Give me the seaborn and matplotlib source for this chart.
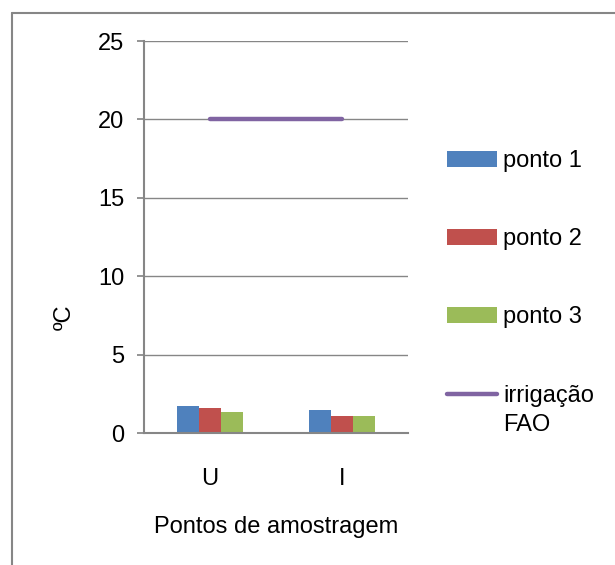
import matplotlib
matplotlib.use("Agg")
import matplotlib.pyplot as plt
import seaborn as sns
import pandas as pd
from matplotlib.lines import Line2D

categories = ["U", "I"]
ponto1 = [1.72, 1.45]
ponto2 = [1.57, 1.08]
ponto3 = [1.32, 1.07]
fao = [20, 20]
series_names = ["ponto 1", "ponto 2", "ponto 3"]
line_name_1 = "irrigação"
line_name_2 = "FAO"
colors = ["#4F81BD", "#C0504D", "#9BBB59"]
line_color = "#8064A2"

sns.set_theme(style="white")
plt.rcParams["font.family"] = ["Liberation Sans", "DejaVu Sans"]
plt.rcParams["text.color"] = "black"
plt.rcParams["axes.labelcolor"] = "black"
plt.rcParams["xtick.color"] = "black"
plt.rcParams["ytick.color"] = "black"

FS = 17

rows = []
for name, vals in zip(series_names, [ponto1, ponto2, ponto3]):
    for c, v in zip(categories, vals):
        rows.append({"cat": c, "serie": name, "val": v})
df = pd.DataFrame(rows)
dline = pd.DataFrame({"cat": categories, "val": fao})

fig = plt.figure(figsize=(6.15, 5.65), dpi=100)
ax = fig.add_axes([144/615, 1-433/565, 264/615, 392/565])

sns.barplot(data=df, x="cat", y="val", hue="serie", palette=colors,
            width=0.5, saturation=1, ax=ax, edgecolor="none")
sns.lineplot(data=dline, x="cat", y="val", color=line_color, linewidth=3.2,
             ax=ax, label=line_name_1)

ax.set_ylim(0, 25)
ax.set_xlim(-0.5, 1.5)
ax.set_yticks([0, 5, 10, 15, 20, 25])
ax.yaxis.grid(True, color="#868686", linewidth=1)
ax.set_axisbelow(True)
for s in ["top", "right"]:
    ax.spines[s].set_visible(False)
for s in ["left", "bottom"]:
    ax.spines[s].set_color("#868686")
    ax.spines[s].set_linewidth(1.5)
ax.tick_params(axis="y", left=True, length=5, color="#868686", labelsize=FS, pad=9,
               labelcolor="black")
ax.tick_params(axis="x", bottom=False, labelsize=FS, pad=19, labelcolor="black")
ax.set_xlabel("Pontos de amostragem", fontsize=FS)
ax.set_ylabel("ºC", fontsize=FS)
ax.xaxis.set_label_coords(0.5, (433-516)/392)
ax.yaxis.set_label_coords((76-144)/264, (433-317)/392)

handles, labels = ax.get_legend_handles_labels()
leg = ax.legend(handles, labels, loc="upper left", bbox_to_anchor=(447/615, 1-150/565),
                bbox_transform=fig.transFigure, frameon=False, fontsize=FS,
                handlelength=2.12, handleheight=0.64, labelspacing=2.38, handletextpad=0.25,
                borderaxespad=0, borderpad=0)

fig.canvas.draw()
r = fig.canvas.get_renderer()
t = leg.get_texts()[-1]
bb = t.get_window_extent(r)
fig.text(bb.x0/fig.bbox.width, (bb.y0 - 29)/fig.bbox.height, line_name_2,
         fontsize=FS, color="black", ha="left", va="bottom")

fig.add_artist(Line2D([12/615, 12/615], [0, 1-13/565], transform=fig.transFigure,
                      color="#868686", linewidth=1.5))
fig.add_artist(Line2D([12/615, 1], [1-13/565, 1-13/565], transform=fig.transFigure,
                      color="#868686", linewidth=1.5))

fig.savefig("out.png", dpi=100)
